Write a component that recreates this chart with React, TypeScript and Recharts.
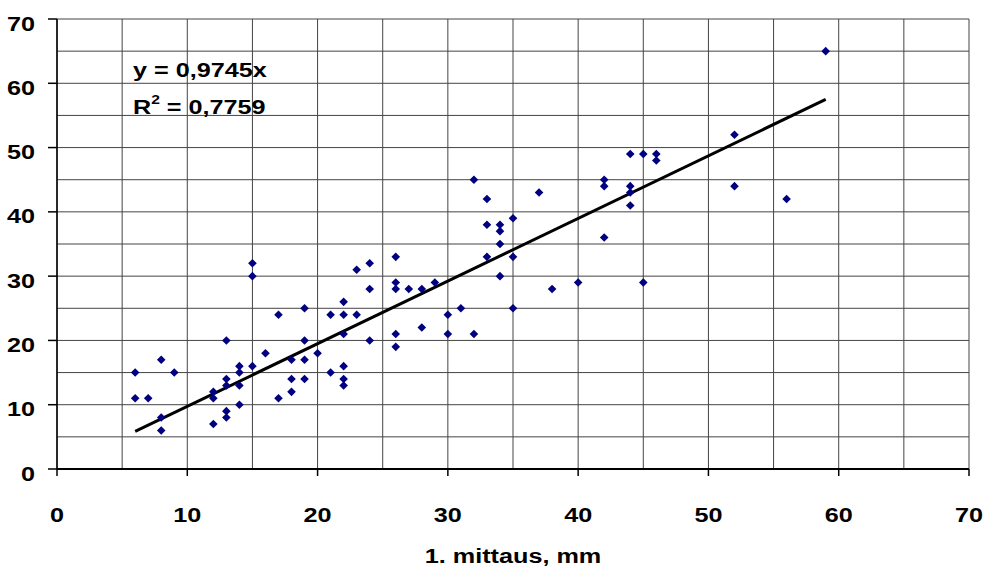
import React from 'react';
import { ScatterChart, Scatter, XAxis, YAxis, CartesianGrid, ReferenceLine } from 'recharts';

// 1. mittaus (x) vs 2. mittaus (y), mm
const firstMeasure = [
  6, 6, 7, 8, 8, 8, 9, 12, 12, 12, 13, 13, 13, 13, 13, 14, 14, 14, 14, 15, 15, 15,
  16, 17, 17, 18, 18, 18, 19, 19, 19, 19, 20, 21, 21, 22, 22, 22, 22, 22, 22, 23, 23,
  24, 24, 24, 26, 26, 26, 26, 26, 27, 28, 28, 29, 30, 30, 31, 32, 32, 33, 33, 33, 34,
  34, 34, 34, 35, 35, 35, 37, 38, 40, 42, 42, 42, 44, 44, 44, 44, 45, 45, 46, 46, 52,
  52, 56, 59,
];
const secondMeasure = [
  15, 11, 11, 17, 8, 6, 15, 12, 11, 7, 20, 14, 13, 9, 8, 16, 15, 13, 10, 32, 30, 16,
  18, 24, 11, 17, 14, 12, 25, 20, 17, 14, 18, 24, 15, 26, 24, 21, 16, 14, 13, 31, 24,
  32, 28, 20, 33, 29, 28, 21, 19, 28, 28, 22, 29, 24, 21, 25, 45, 21, 42, 38, 33, 38,
  37, 35, 30, 39, 33, 25, 43, 28, 29, 45, 44, 36, 49, 44, 43, 41, 49, 29, 49, 48, 52,
  44, 42, 65,
];

const gridTicks = [0, 5, 10, 15, 20, 25, 30, 35, 40, 45, 50, 55, 60, 65, 70];
const slope = 0.9745;
const trendRange = [6, 59];

const points = firstMeasure.map((x, i) => ({ x, y: secondMeasure[i] }));

const FONT = '"Liberation Sans", Arial, Helvetica, sans-serif';
const STRETCH = 1.2;

const XTick = (props: any) => {
  const { x, y, payload } = props;
  if (payload.value % 10 !== 0) return <g />;
  return (
    <g>
      <line x1={x} x2={x} y1={y} y2={y + 7} stroke="#000" strokeWidth={1.5} />
      <g transform={`translate(${x},${y + 53}) scale(${STRETCH},1)`}>
        <text x={0} y={0} textAnchor="middle" fontFamily={FONT} fontWeight="bold" fontSize={21} fill="#000">
          {payload.value}
        </text>
      </g>
    </g>
  );
};

const YTick = (props: any) => {
  const { x, y, payload } = props;
  if (payload.value % 10 !== 0) return <g />;
  return (
    <g>
      <line x1={x - 9} x2={x} y1={y} y2={y} stroke="#000" strokeWidth={1.5} />
      <g transform={`translate(${x - 22},${y + 11.5}) scale(${STRETCH},1)`}>
        <text x={0} y={0} textAnchor="end" fontFamily={FONT} fontWeight="bold" fontSize={21} fill="#000">
          {payload.value}
        </text>
      </g>
    </g>
  );
};

const AxisTitle = (props: any) => {
  const { x, y, width } = props.viewBox;
  return (
    <g transform={`translate(${x + width / 2},${y + 94}) scale(${STRETCH},1)`}>
      <text x={0} y={0} textAnchor="middle" fontFamily={FONT} fontWeight="bold" fontSize={21} fill="#000">
        1. mittaus, mm
      </text>
    </g>
  );
};

const Diamond = (props: any) => {
  const { cx, cy } = props;
  const r = 4.3;
  return <path d={`M${cx},${cy - r}L${cx + r},${cy}L${cx},${cy + r}L${cx - r},${cy}Z`} fill="#000080" />;
};

export default function App() {
  return (
    <div style={{ position: 'absolute', left: 0, top: 0, width: 986, height: 569, background: '#fff' }}>
      <ScatterChart width={986} height={569} margin={{ top: 19, right: 17, left: 0, bottom: 0 }}>
        <CartesianGrid stroke="#444" strokeWidth={1} />
        <XAxis
          type="number"
          dataKey="x"
          domain={[0, 70]}
          ticks={gridTicks}
          interval={0}
          height={100}
          tickSize={0}
          tickMargin={0}
          tickLine={false}
          tick={<XTick />}
          axisLine={{ stroke: '#000', strokeWidth: 2 }}
          label={{ content: <AxisTitle /> }}
        />
        <YAxis
          type="number"
          dataKey="y"
          domain={[0, 70]}
          ticks={gridTicks}
          interval={0}
          width={57}
          tickSize={0}
          tickMargin={0}
          tickLine={false}
          tick={<YTick />}
          axisLine={{ stroke: '#000', strokeWidth: 1.5 }}
        />
        <ReferenceLine
          segment={[
            { x: trendRange[0], y: trendRange[0] * slope },
            { x: trendRange[1], y: trendRange[1] * slope },
          ]}
          stroke="#000"
          strokeWidth={3}
          ifOverflow="visible"
        />
        <Scatter data={points} shape={<Diamond />} isAnimationActive={false} />
      </ScatterChart>
      <svg width={986} height={569} style={{ position: 'absolute', left: 0, top: 0, pointerEvents: 'none' }}>
        <g transform={`translate(133,77) scale(${STRETCH},1)`}>
          <text x={0} y={0} fontFamily={FONT} fontWeight="bold" fontSize={21} fill="#000">
            y = 0,9745x
          </text>
        </g>
        <g transform={`translate(133,114) scale(${STRETCH},1)`}>
          <text x={0} y={0} fontFamily={FONT} fontWeight="bold" fontSize={21} fill="#000">
            R<tspan fontSize={13} dy={-10}>2</tspan>
            <tspan dy={10}> = 0,7759</tspan>
          </text>
        </g>
      </svg>
    </div>
  );
}
